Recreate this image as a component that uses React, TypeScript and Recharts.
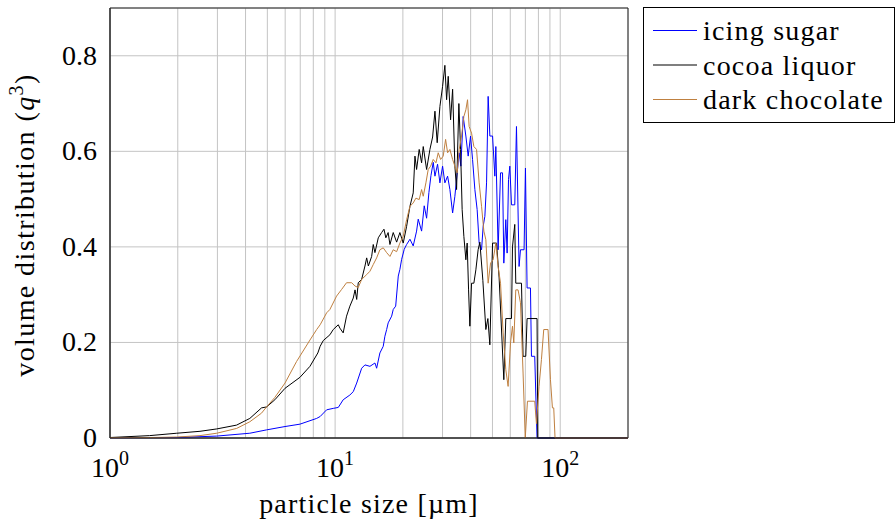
import React from "react";
import { LineChart, Line, XAxis, YAxis, CartesianGrid, ReferenceArea, Label } from "recharts";

// particle sizes in µm
const icingSize = [1.0, 1.98, 2.98, 4.18, 4.96, 5.99, 6.98, 8.28, 8.58, 9.17, 9.81, 10.33, 10.86, 11.63, 12.04, 12.47, 13.12, 13.57, 14.28, 15.03, 15.29, 15.81, 16.36, 16.64, 16.94, 17.21, 17.83, 18.12, 18.58, 19.08, 19.4, 19.75, 20.28, 20.78, 21.5, 22.23, 23.01, 23.4, 24.22, 24.88, 25.49, 26.1, 26.65, 27.28, 27.76, 28.52, 29.21, 30.02, 30.73, 31.6, 32.35, 33.26, 34.04, 34.85, 35.57, 36.19, 37.06, 38.09, 39.0, 39.96, 40.79, 41.76, 42.75, 43.63, 44.72, 45.46, 46.26, 47.07, 47.84, 48.68, 50.05, 51.23, 51.75, 52.98, 54.3, 55.42, 56.16, 57.31, 58.09, 58.92, 59.71, 60.74, 62.81, 63.92, 65.64, 66.59, 69.08, 70.07, 71.24, 73.75, 74.51, 77.04, 78.89, 200];
const icingQ3 = [0.0005, 0.001, 0.004, 0.01, 0.017, 0.024, 0.029, 0.041, 0.045, 0.059, 0.062, 0.064, 0.08, 0.09, 0.097, 0.115, 0.146, 0.153, 0.15, 0.157, 0.146, 0.178, 0.192, 0.213, 0.227, 0.241, 0.255, 0.269, 0.276, 0.339, 0.353, 0.374, 0.395, 0.405, 0.416, 0.402, 0.433, 0.458, 0.433, 0.486, 0.46, 0.514, 0.549, 0.577, 0.548, 0.573, 0.534, 0.569, 0.534, 0.548, 0.52, 0.471, 0.506, 0.555, 0.597, 0.569, 0.673, 0.632, 0.59, 0.632, 0.583, 0.52, 0.478, 0.408, 0.394, 0.443, 0.464, 0.534, 0.715, 0.632, 0.632, 0.548, 0.61, 0.394, 0.555, 0.555, 0.366, 0.457, 0.387, 0.541, 0.569, 0.488, 0.488, 0.652, 0.359, 0.394, 0.394, 0.565, 0.314, 0.314, 0.171, 0.171, 0, 0];

const cocoaSize = [1.0, 1.5, 1.98, 2.51, 2.98, 3.65, 4.18, 4.71, 4.96, 5.4, 5.99, 6.98, 7.73, 8.38, 8.58, 8.86, 9.48, 9.81, 10.33, 10.5, 10.86, 11.24, 11.63, 12.04, 12.26, 12.47, 12.67, 13.12, 13.57, 13.81, 14.05, 14.53, 14.77, 15.03, 15.55, 16.09, 16.48, 16.8, 17.2, 17.52, 18.12, 18.76, 19.4, 20.07, 20.78, 21.5, 22.23, 22.63, 23.01, 23.63, 24.22, 24.63, 25.49, 26.37, 27.11, 27.76, 28.41, 29.21, 30.02, 30.73, 31.28, 31.8, 32.58, 33.26, 34.04, 34.64, 35.46, 36.08, 36.67, 37.32, 38.09, 38.6, 39.16, 39.68, 40.37, 41.34, 42.19, 43.18, 43.95, 45.32, 46.73, 47.7, 48.68, 50.05, 52.13, 53.53, 56.16, 57.31, 60.74, 61.36, 62.81, 63.46, 67.27, 68.38, 70.29, 71.24, 78.89, 79.45, 200];
const cocoaQ3 = [0.001, 0.005, 0.01, 0.014, 0.019, 0.027, 0.041, 0.063, 0.065, 0.08, 0.104, 0.127, 0.15, 0.178, 0.192, 0.204, 0.216, 0.227, 0.237, 0.23, 0.22, 0.255, 0.276, 0.293, 0.31, 0.29, 0.325, 0.332, 0.36, 0.377, 0.36, 0.38, 0.405, 0.388, 0.419, 0.43, 0.437, 0.419, 0.43, 0.405, 0.43, 0.41, 0.43, 0.408, 0.443, 0.485, 0.513, 0.59, 0.562, 0.604, 0.576, 0.61, 0.562, 0.604, 0.63, 0.684, 0.618, 0.694, 0.736, 0.78, 0.708, 0.757, 0.666, 0.73, 0.569, 0.52, 0.7, 0.604, 0.478, 0.422, 0.373, 0.408, 0.31, 0.234, 0.324, 0.324, 0.352, 0.394, 0.41, 0.33, 0.227, 0.25, 0.195, 0.408, 0.408, 0.335, 0.122, 0.25, 0.25, 0.4, 0.447, 0.324, 0.324, 0.171, 0.171, 0.25, 0.25, 0, 0];

const chocSize = [1.0, 1.5, 1.98, 2.51, 2.98, 3.65, 4.18, 4.71, 4.96, 5.4, 5.99, 6.74, 7.73, 8.28, 8.58, 9.17, 9.48, 10.15, 10.69, 11.24, 11.85, 12.26, 12.67, 13.12, 13.81, 14.28, 14.77, 15.29, 15.81, 16.36, 16.94, 17.52, 18.12, 18.76, 19.4, 20.07, 20.78, 21.5, 22.23, 22.85, 23.63, 24.22, 24.63, 25.31, 25.92, 26.56, 27.28, 28.05, 28.71, 29.42, 30.21, 30.96, 31.6, 32.35, 33.26, 34.04, 34.85, 35.57, 36.45, 37.32, 38.09, 38.75, 39.39, 40.37, 41.34, 42.49, 43.63, 44.72, 45.79, 46.73, 47.84, 49.03, 50.34, 51.75, 52.98, 54.3, 55.77, 57.31, 58.68, 60.13, 61.36, 62.19, 63.46, 64.97, 66.59, 68.38, 69.93, 71.52, 77.04, 78.4, 80.51, 82.5, 84.48, 88.27, 90.47, 92.33, 93.57, 94.83, 200];
const chocQ3 = [0.0005, 0.001, 0.002, 0.005, 0.01, 0.02, 0.034, 0.052, 0.065, 0.085, 0.115, 0.16, 0.205, 0.227, 0.237, 0.262, 0.269, 0.297, 0.311, 0.325, 0.325, 0.318, 0.315, 0.332, 0.342, 0.349, 0.363, 0.377, 0.394, 0.398, 0.388, 0.38, 0.394, 0.39, 0.408, 0.422, 0.457, 0.485, 0.492, 0.502, 0.499, 0.52, 0.506, 0.534, 0.562, 0.569, 0.583, 0.576, 0.597, 0.583, 0.59, 0.625, 0.597, 0.604, 0.583, 0.569, 0.555, 0.604, 0.632, 0.673, 0.687, 0.708, 0.652, 0.638, 0.61, 0.604, 0.534, 0.485, 0.433, 0.415, 0.324, 0.366, 0.373, 0.408, 0.359, 0.324, 0.22, 0.143, 0.108, 0.199, 0.234, 0.199, 0.31, 0.31, 0.283, 0.136, 0, 0.077, 0.077, 0.03, 0.108, 0.164, 0.227, 0.227, 0.122, 0.063, 0.063, 0, 0];

const gridSizes = [1, 2, 3, 4, 5, 6, 7, 8, 9, 10, 20, 30, 40, 50, 60, 70, 80, 90, 100, 200];
const decades = [1, 10, 100];
const yTicks = [0, 0.2, 0.4, 0.6, 0.8];

const series = [
    { name: "icing sugar", color: "#0000ff", sizes: icingSize, values: icingQ3 },
    { name: "cocoa liquor", color: "#000000", sizes: cocoaSize, values: cocoaQ3 },
    { name: "dark chocolate", color: "#bf8040", sizes: chocSize, values: chocQ3 },
];

const font = "Liberation Serif, Tinos, Times New Roman, serif";

const XTick = (props: any) => {
    const { x, y, payload } = props;
    const i = decades.indexOf(payload.value);
    if (i < 0) return <g />;
    return (
        <text x={x} y={y + 31} textAnchor="middle" fontFamily={font} fontSize={28} fill="#000">
            <tspan>10</tspan>
            <tspan dy={-12} fontSize={20}>{i}</tspan>
        </text>
    );
};

const YTick = (props: any) => {
    const { x, y, payload } = props;
    const v = payload.value;
    return (
        <text x={x - 5} y={y + 9} textAnchor="end" fontFamily={font} fontSize={28} fill="#000">
            {v === 0 ? "0" : v.toFixed(1)}
        </text>
    );
};

const YLabel = (props: any) => {
    const vb = props.viewBox || { x: 0, y: 8, width: 110, height: 430 };
    const cx = vb.x + 34;
    const cy = vb.y + vb.height / 2 + 2;
    return (
        <text
            x={cx}
            y={cy}
            transform={`rotate(-90 ${cx} ${cy})`}
            textAnchor="middle"
            fontFamily={font}
            fontSize={28}
            letterSpacing={1.4}
            fill="#000"
        >
            volume distribution (<tspan fontStyle="italic">q</tspan>
            <tspan dy={-11} fontSize={20}>3</tspan>
            <tspan dy={11}>)</tspan>
        </text>
    );
};

export default function App() {
    return (
        <div style={{ position: "absolute", left: 0, top: 0, width: 895, height: 525, background: "#fff" }}>
            <LineChart width={895} height={525} margin={{ top: 8, right: 267, bottom: 0, left: 0 }}>
                <CartesianGrid stroke="#c4c4c4" strokeWidth={1} />
                <XAxis
                    type="number"
                    dataKey="size"
                    scale="log"
                    domain={[1, 200]}
                    allowDataOverflow
                    ticks={gridSizes}
                    interval={0}
                    tick={<XTick />}
                    tickLine={false}
                    axisLine={{ stroke: "#222" }}
                    height={87}
                >
                    <Label
                        value="particle size [µm]"
                        position="insideBottom"
                        offset={12}
                        style={{ fontFamily: font, fontSize: 28, fill: "#000", letterSpacing: 1.2 }}
                    />
                </XAxis>
                <YAxis
                    type="number"
                    domain={[0, 0.9]}
                    ticks={yTicks}
                    interval={0}
                    tick={<YTick />}
                    tickLine={false}
                    axisLine={{ stroke: "#222" }}
                    width={110}
                >
                    <Label content={<YLabel />} />
                </YAxis>
                {series.map((s) => (
                    <Line
                        key={s.name}
                        data={s.sizes.map((size, i) => ({ size, q3: s.values[i] }))}
                        dataKey="q3"
                        name={s.name}
                        type="linear"
                        stroke={s.color}
                        strokeWidth={1}
                        dot={false}
                        isAnimationActive={false}
                    />
                ))}
                <ReferenceArea x1={1} x2={200} y1={0} y2={0.9} fill="none" stroke="#222" strokeWidth={1} ifOverflow="visible" />
            </LineChart>
            <svg
                width={252}
                height={116}
                style={{ position: "absolute", left: 643, top: 7 }}
            >
                <rect x={0.5} y={0.5} width={251} height={115} fill="#fff" stroke="#000" strokeWidth={1} />
                {series.map((s, i) => (
                    <g key={s.name}>
                        <line x1={10} x2={54} y1={23.5 + i * 34.5} y2={23.5 + i * 34.5} stroke={s.color} strokeWidth={1.2} />
                        <text x={60} y={33 + i * 34.5} fontFamily={font} fontSize={28} letterSpacing={1.2} fill="#000">
                            {s.name}
                        </text>
                    </g>
                ))}
            </svg>
        </div>
    );
}
